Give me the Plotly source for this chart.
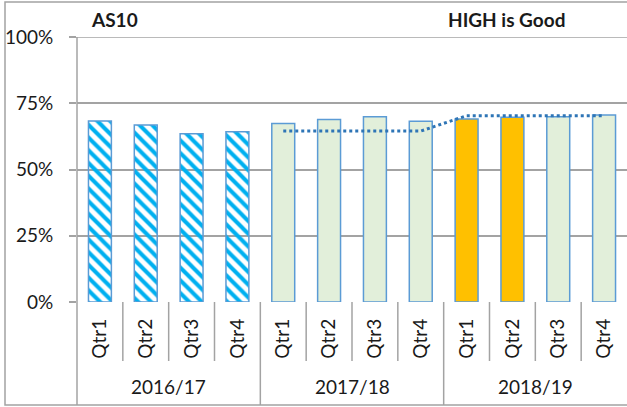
import plotly.graph_objects as go

# ---- data ----
years = ["2016/17", "2017/18", "2018/19"]
quarters = ["Qtr1", "Qtr2", "Qtr3", "Qtr4"]
values = [68.3, 66.8, 63.5, 64.2,
          67.4, 68.9, 69.9, 68.2,
          69.1, 69.7, 69.9, 70.6]
target = [None, None, None, None,
          64.5, 64.5, 64.5, 64.5,
          70.3, 70.3, 70.3, 70.3]
bar_colors = ["#00B0F0"] * 4 + ["#E2EFDA"] * 4 + ["#FFC000"] * 2 + ["#E2EFDA"] * 2
bar_patterns = ["\\"] * 4 + [""] * 8
y_ticks = [0, 25, 50, 75, 100]
y_tick_text = ["0%", "25%", "50%", "75%", "100%"]
chart_id = "AS10"
polarity = "HIGH is Good"

n_q = len(quarters)
tick_text = [q for _ in years for q in quarters]
xs = list(range(len(tick_text)))

FONT = "Lato"
TXT = "#1a1a1a"
GRID = "#A3A3A3"
FS = 19

# pixel geometry of plot area: left 77, top 37, width 550, height 265
W, H = 550.0, 265.0
def px_y(p):  # pixels below plot bottom -> paper y
    return -p / H
def px_x(p):  # pixel offset from plot left -> paper x
    return p / W

fig = go.Figure()
fig.add_trace(go.Bar(
    x=xs, y=values, width=0.5,
    marker=dict(color=bar_colors,
                line=dict(color="#5B9BD5", width=1.5),
                pattern=dict(shape=bar_patterns, bgcolor="white",
                             size=9, solidity=0.45, fillmode="replace")),
    showlegend=False, hoverinfo="y",
))
fig.add_trace(go.Scatter(
    x=xs, y=target, mode="lines",
    line=dict(color="#2E75B6", width=3, dash="dot"),
    connectgaps=False, showlegend=False,
))

shapes = []
# top gridline (100%)
shapes.append(dict(type="line", xref="paper", yref="y", x0=px_x(-7), x1=1, y0=y_ticks[-1], y1=y_ticks[-1],
                   line=dict(color=GRID, width=1.5), layer="below"))
# quarter / year dividers
for i in range(1, len(xs)):
    is_group = (i % n_q == 0)
    shapes.append(dict(type="line", xref="x", yref="paper",
                       x0=i - 0.5, x1=i - 0.5, y0=0,
                       y1=px_y(103 if is_group else 59),
                       line=dict(color=GRID, width=1.5)))
# left axis line extended
shapes.append(dict(type="line", xref="paper", yref="paper",
                   x0=0, x1=0, y0=1, y1=px_y(103),
                   line=dict(color=GRID, width=1.5)))
# outer border
shapes.append(dict(type="rect", xref="paper", yref="paper",
                   x0=px_x(-72), x1=1.2, y0=px_y(103), y1=1 + 35 / H,
                   line=dict(color=GRID, width=1.5), fillcolor="rgba(0,0,0,0)"))

annotations = []
for gi, yr in enumerate(years):
    annotations.append(dict(x=gi * n_q + (n_q - 1) / 2, y=px_y(84), xref="x", yref="paper",
                            text=yr, showarrow=False, xanchor="center", yanchor="middle",
                            font=dict(family=FONT, size=FS, color=TXT)))
annotations.append(dict(x=px_x(12), y=1 + 18 / H, xref="paper", yref="paper",
                        text="<b>" + chart_id + "</b>", showarrow=False,
                        xanchor="left", yanchor="middle",
                        font=dict(family=FONT, size=FS, color=TXT)))
annotations.append(dict(x=px_x(369), y=1 + 18 / H, xref="paper", yref="paper",
                        text="<b>" + polarity + "</b>", showarrow=False,
                        xanchor="left", yanchor="middle",
                        font=dict(family=FONT, size=FS, color=TXT)))

fig.update_layout(
    width=627, height=407,
    margin=dict(l=77, r=0, t=37, b=105),
    paper_bgcolor="white", plot_bgcolor="white",
    bargap=0.5,
    shapes=shapes, annotations=annotations,
    xaxis=dict(range=[-0.5, len(xs) - 0.5], tickmode="array", tickvals=xs,
               ticktext=tick_text, tickangle=-90, ticks="", showgrid=False,
               zeroline=False, showline=False, ticklabelstandoff=12,
               tickfont=dict(family=FONT, size=FS, color=TXT), fixedrange=True),
    yaxis=dict(range=[0, 100], tickmode="array", tickvals=y_ticks, ticktext=y_tick_text,
               showgrid=True, gridcolor=GRID, gridwidth=1.5,
               ticks="outside", ticklen=7, tickcolor=GRID, tickwidth=1.5,
               zeroline=False, showline=False, ticklabelstandoff=12,
               tickfont=dict(family=FONT, size=FS, color=TXT), fixedrange=True),
)

fig.write_html("out.html", config={"displayModeBar": False},
               post_script="document.body.style.margin='0px';")
